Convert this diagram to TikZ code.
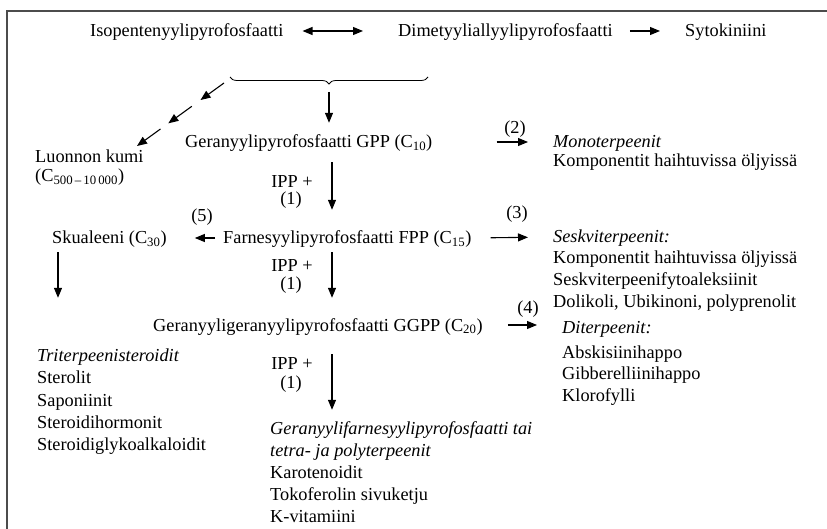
\documentclass[tikz,border=0pt]{standalone}
\usepackage{fontspec}
\setmainfont{Liberation Serif}
\usetikzlibrary{arrows.meta,calc,decorations.pathreplacing}
\begin{document}
\begin{tikzpicture}[x=1pt,y=-1pt,
  txt/.style={anchor=west,inner sep=0pt,text height=12pt,text depth=0pt,
    font=\fontsize{18.3}{22}\selectfont},
  ctxt/.style={txt,anchor=center},
  itx/.style={txt,font=\fontsize{18.3}{22}\selectfont\itshape},
  arr/.style={line width=1.1pt,-{Triangle[length=10pt,width=8pt]}},
  darr/.style={line width=1.1pt,{Triangle[length=10pt,width=8pt]}-{Triangle[length=10pt,width=8pt]}},
  frame/.style={line width=2.4pt,draw=black!70}]
\clip (0,0) rectangle (827,529);
\fill[white] (0,0) rectangle (827,529);
% outer frame (top and left edges)
\draw[frame] (7,540) -- (7,11) -- (840,11);

% top row
\node[txt] (ipp)   at (90,31)  {Isopentenyylipyrofosfaatti};
\node[txt] (dmapp) at (398,31) {Dimetyyliallyylipyrofosfaatti};
\node[txt] (syto)  at (685,31) {Sytokiniini};
\draw[darr,shorten <=19pt,shorten >=35pt] (ipp.east) -- (dmapp.west);
\draw[arr,shorten <=17pt,shorten >=25pt] (dmapp.east) -- (syto.west);

% brace gathering both precursors
\coordinate (bl) at (230,77);
\coordinate (br) at (428,77);
\coordinate (bt) at (329,85);
\draw[line width=0.8pt,decorate,decoration={brace,mirror,amplitude=7pt}] (bl) -- (br);

% main chain
\node[txt] (gpp)  at (185,142) {Geranyylipyrofosfaatti GPP (C\textsubscript{10})};
\node[txt] (fpp)  at (223,238) {Farnesyylipyrofosfaatti FPP (C\textsubscript{15})};
\node[txt] (ggpp) at (153,325) {Geranyyligeranyylipyrofosfaatti GGPP (C\textsubscript{20})};
\node[itx] (gfpp) at (270,428) {Geranyylifarnesyylipyrofosfaatti tai};
\node[itx] (gfpp2) at (270,450) {tetra- ja polyterpeenit};
\node[txt] (karo) at (270,472) {Karotenoidit};
\node[txt] (toko) at (270,494) {Tokoferolin sivuketju};
\node[txt] (kvit) at (270,516) {K-vitamiini};

\coordinate (col) at (332,0);
\coordinate (colL) at (58,0);
\draw[arr,shorten <=7pt,shorten >=13pt] (bt) -- (bt |- gpp.north);
\draw[arr,shorten <=14pt,shorten >=22pt] (gpp.south -| col) -- (fpp.north -| col);
\draw[arr,shorten <=8pt,shorten >=21pt] (fpp.south -| col) -- (ggpp.north -| col);
\draw[arr,shorten <=23pt,shorten >=12pt] (ggpp.south -| col) -- (gfpp.north -| col);

% IPP additions
\node[ctxt] (i1a) at (292,182) {IPP +};
\node[ctxt] (i1b) at (291,199) {(1)};
\node[ctxt] (i2a) at (292,266) {IPP +};
\node[ctxt] (i2b) at (291,284) {(1)};
\node[ctxt] (i3a) at (292,363) {IPP +};
\node[ctxt] (i3b) at (291,382) {(1)};

% natural rubber branch
\node[txt] (kumi)  at (35,157) {Luonnon kumi};
\node[txt] (kumic) at (35,176) {(C\textsubscript{500\,–\,10\,000})};
\coordinate (rs) at (224,83);
\coordinate (re) at (137,146);
\draw[arr] (rs) -- ($(rs)!0.27!(re)$);
\draw[arr] ($(rs)!0.37!(re)$) -- ($(rs)!0.64!(re)$);
\draw[arr] ($(rs)!0.73!(re)$) -- (re);

% monoterpenes
\node[itx] (mono)  at (553,142) {Monoterpeenit};
\node[txt] (mono2) at (553,161) {Komponentit haihtuvissa öljyissä};
\draw[arr,shorten <=64pt,shorten >=25pt] (gpp.east) -- (mono.west);
\node[ctxt] (n2) at (515,128) {(2)};

% sesquiterpenes
\node[itx] (sesk)  at (553,237) {Seskviterpeenit:};
\node[txt] (sesk2) at (553,258) {Komponentit haihtuvissa öljyissä};
\node[txt] (sesk3) at (553,280) {Seskviterpeenifytoaleksiinit};
\node[txt] (sesk4) at (553,302) {Dolikoli, Ubikinoni, polyprenolit};
\draw[arr,shorten <=19pt,shorten >=25pt] (fpp.east) -- (sesk.west);
\node[ctxt] (n3) at (517,213) {(3)};

% squalene and triterpenes
\node[txt] (skual) at (52,238) {Skualeeni (C\textsubscript{30})};
\draw[arr,shorten <=8pt,shorten >=28pt] (fpp.west) -- (skual.east);
\node[ctxt] (n5) at (202,216) {(5)};
\node[itx] (trit)  at (37,355) {Triterpeenisteroidit};
\node[txt] (trit2) at (37,377) {Sterolit};
\node[txt] (trit3) at (37,400) {Saponiinit};
\node[txt] (trit4) at (37,422) {Steroidihormonit};
\node[txt] (trit5) at (37,444) {Steroidiglykoalkaloidit};
\draw[arr,shorten <=8pt,shorten >=51pt] (skual.south -| colL) -- (trit.north -| colL);

% diterpenes
\node[itx] (dit)  at (562,328) {Diterpeenit:};
\node[txt] (dit2) at (562,352) {Abskisiinihappo};
\node[txt] (dit3) at (562,373) {Gibberelliinihappo};
\node[txt] (dit4) at (562,395) {Klorofylli};
\draw[arr,shorten <=25pt,shorten >=25pt] (ggpp.east) -- (ggpp.east -| dit.west);
\node[ctxt] (n4) at (528,307) {(4)};
\end{tikzpicture}
\end{document}
